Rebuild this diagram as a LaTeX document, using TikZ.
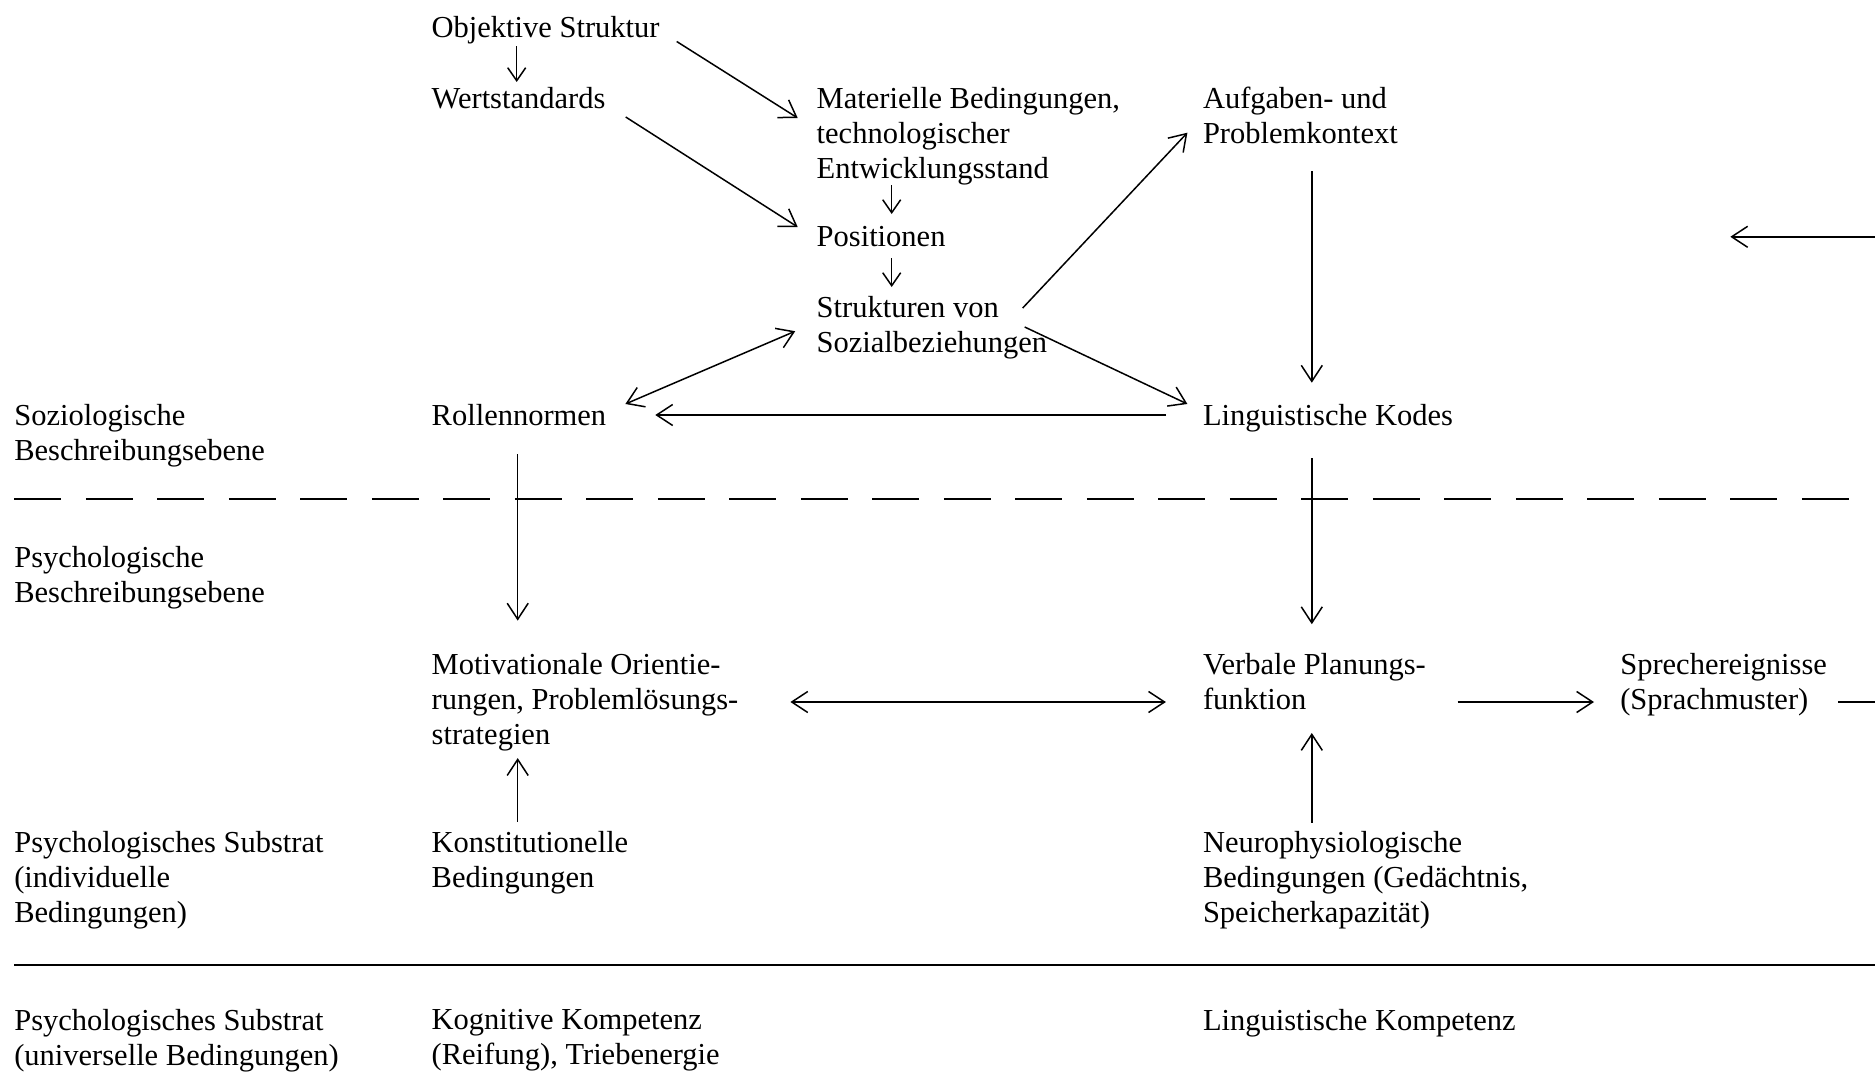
\documentclass[tikz,border=0pt]{standalone}
\usepackage{fontspec}
\setmainfont{Liberation Serif}
\usetikzlibrary{arrows.meta,calc}
\begin{document}
\begin{tikzpicture}[x=1pt,y=-1pt,
  lbl/.style={anchor=north west,inner sep=0pt,outer sep=0pt,align=left,font=\fontsize{30.5}{35.3}\selectfont},
  arr/.style={line width=1.5pt,-{Straight Barb[length=16pt,width=21pt]}},
  sarr/.style={line width=1.5pt,-{Straight Barb[length=13pt,width=18pt]}},
  darr/.style={line width=1.5pt,{Straight Barb[length=16pt,width=21pt]}-{Straight Barb[length=16pt,width=21pt]}},
  plain/.style={line width=1.5pt},
  rule/.style={line width=2pt},
  dashrule/.style={line width=2pt,dash pattern=on 47pt off 24.5pt}]
\useasboundingbox (0,0) rectangle (1875,1073);

% nodes
\node[lbl] (obj)  at (431.7,16.5) {Objektive Struktur};
\node[lbl] (wert) at (431.7,87) {Wertstandards};
\node[lbl] (mat)  at (816.7,87) {Materielle Bedingungen,\\technologischer\\Entwicklungsstand};
\node[lbl] (pos)  at (816.7,226) {Positionen};
\node[lbl] (str)  at (816.7,296) {Strukturen von\\Sozialbeziehungen};
\node[lbl] (auf)  at (1203,87) {Aufgaben- und\\Problemkontext};
\node[lbl] (soz)  at (14.3,404) {Soziologische\\Beschreibungsebene};
\node[lbl] (roll) at (431.7,404) {Rollennormen};
\node[lbl] (ling) at (1203,404) {Linguistische Kodes};
\node[lbl] (psy)  at (14.3,546) {Psychologische\\Beschreibungsebene};
\node[lbl] (mot)  at (431.7,653) {Motivationale Orientie-\\rungen, Problemlösungs-\\strategien};
\node[lbl] (verb) at (1203,653) {Verbale Planungs-\\funktion};
\node[lbl] (spr)  at (1620.3,653) {Sprechereignisse\\(Sprachmuster)};
\node[lbl] (sub)  at (14.3,831) {Psychologisches Substrat\\(individuelle\\Bedingungen)};
\node[lbl] (kon)  at (431.7,831) {Konstitutionelle\\Bedingungen};
\node[lbl] (neu)  at (1203,831) {Neurophysiologische\\Bedingungen (Gedächtnis,\\Speicherkapazität)};
\node[lbl] (subu) at (14.3,1009) {Psychologisches Substrat\\(universelle Bedingungen)};
\node[lbl] (kog)  at (431.7,1009) {Kognitive Kompetenz\\(Reifung), Triebenergie};
\node[lbl] (lk)   at (1203,1009) {Linguistische Kompetenz};

% free coordinates
\coordinate (dashL) at (14.3,498.6);
\coordinate (dashR) at (1848.8,498.6);
\coordinate (solL) at (14.3,965);
\coordinate (solR) at (1875,965);
\coordinate (outR) at (1875,702);
\coordinate (inR) at (1875,236.8);
\coordinate (inTip) at (1730.3,236.8);

% rules
\draw[dashrule] (dashL) -- (dashR);
\draw[rule] (solL) -- (solR);

% connectors
\draw[sarr] ($(obj.north west)+(85,30)$) -- ($(wert.north west)+(85,-5)$);
\draw[arr] ($(obj.north west)+(245,25)$) -- ($(mat.north west)+(-19,31)$);
\draw[arr] ($(wert.north west)+(194,30)$) -- ($(pos.north west)+(-19,1)$);
\draw[sarr] ($(mat.north west)+(75,98)$) -- ($(pos.north west)+(75,-12)$);
\draw[sarr] ($(pos.north west)+(75,32)$) -- ($(str.north west)+(75,-9)$);
\draw[arr] ($(str.north west)+(206,12)$) -- ($(auf.north west)+(-15.6,45.7)$);
\draw[arr] ($(str.north west)+(208,31)$) -- ($(ling.north west)+(-15.6,0)$);
\draw[darr] ($(roll.north west)+(193.7,0)$) -- ($(str.north west)+(-21.5,35.2)$);
\draw[arr] ($(ling.north west)+(-37,11)$) -- ($(roll.north west)+(223.6,11)$);
\draw[arr] ($(auf.north west)+(108.8,84)$) -- ($(ling.north west)+(108.8,-21.3)$);
\draw[arr] ($(roll.north west)+(86,50.4)$) -- ($(mot.north west)+(86,-32.4)$);
\draw[arr] ($(ling.north west)+(108.8,54)$) -- ($(verb.north west)+(108.8,-28.8)$);
\draw[darr] ($(mot.north west)+(358.7,49)$) -- ($(verb.north west)+(-37.1,49)$);
\draw[arr] ($(verb.north west)+(254.7,49)$) -- ($(spr.north west)+(-26.3,49)$);
\draw[plain] ($(spr.north west)+(217.7,49)$) -- (outR);
\draw[arr] (inR) -- (inTip);
\draw[arr] ($(kon.north west)+(86,-9.5)$) -- ($(mot.north west)+(86,105.1)$);
\draw[arr] ($(neu.north west)+(108.8,-8.3)$) -- ($(verb.north west)+(108.8,80)$);
\end{tikzpicture}
\end{document}
